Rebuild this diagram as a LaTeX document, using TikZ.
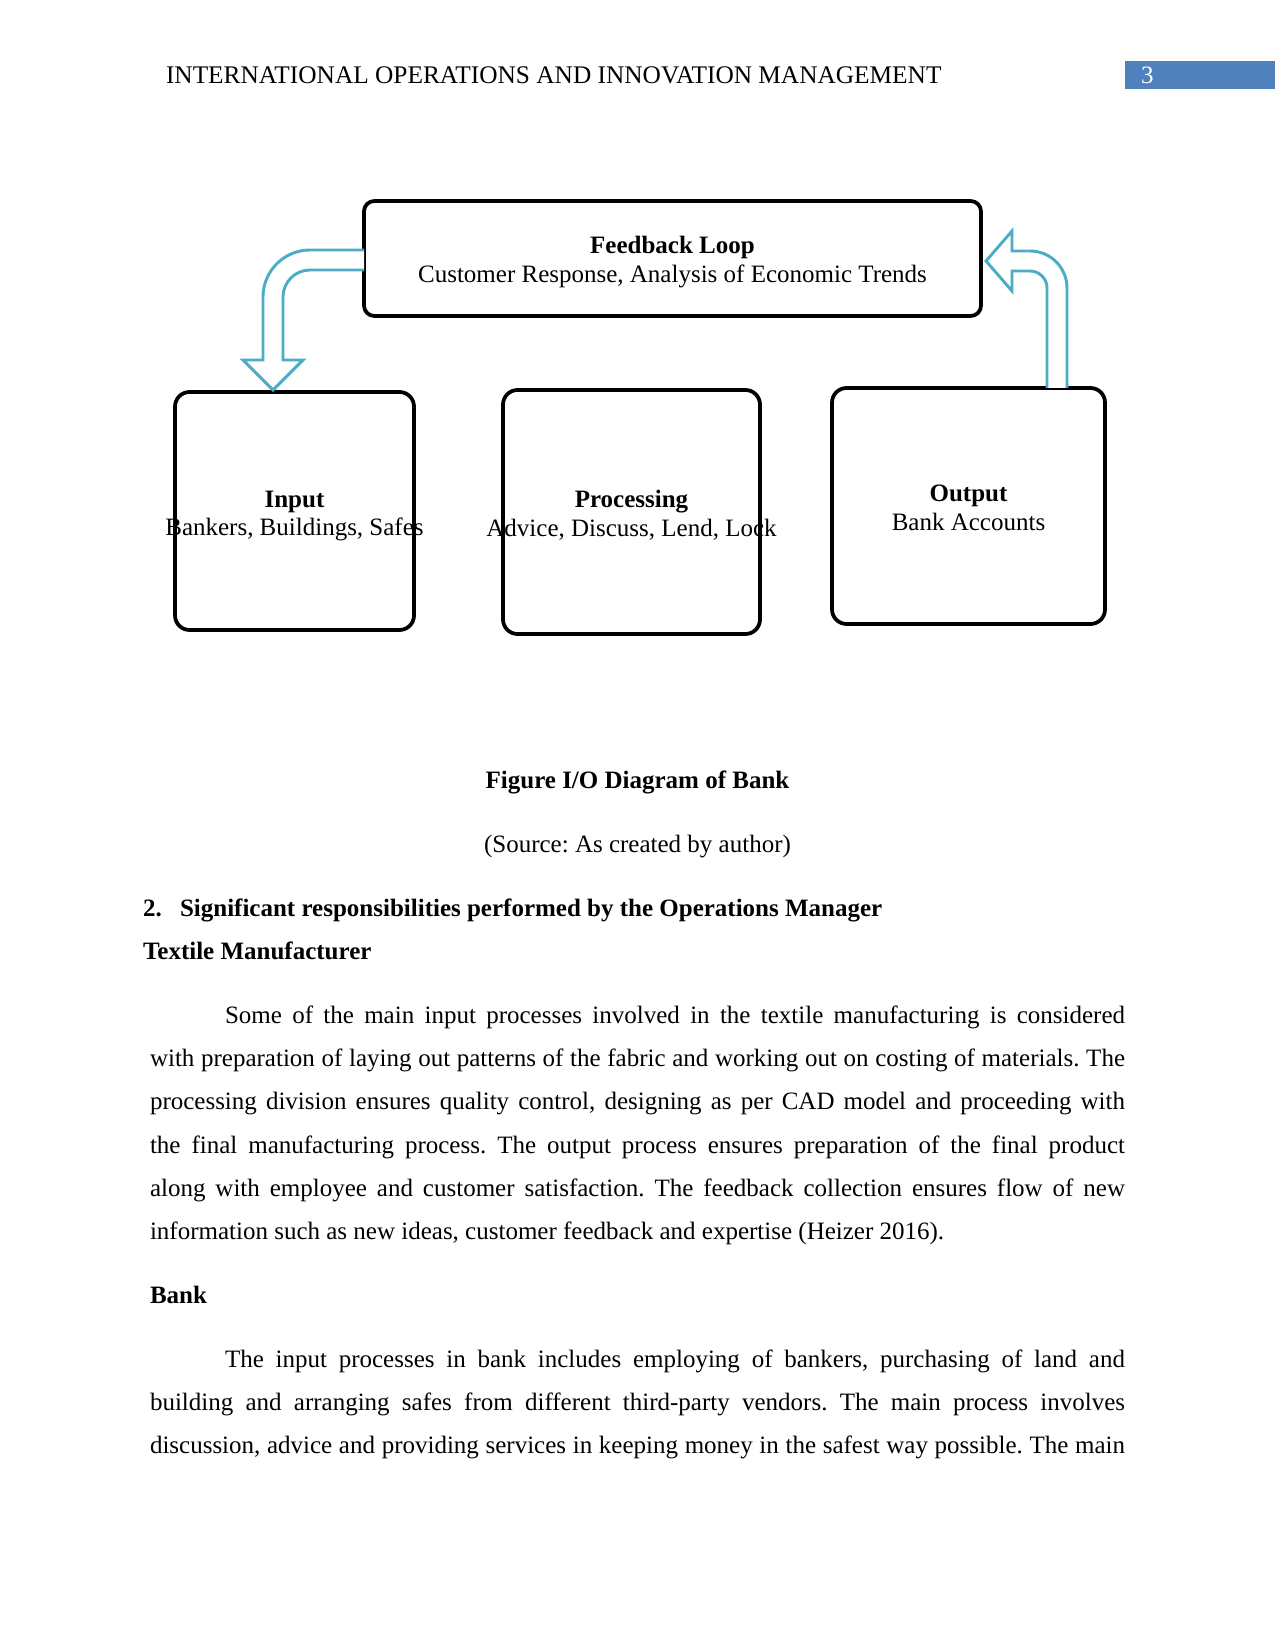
\documentclass[tikz,border=0pt]{standalone}
\usepackage{fontspec}
\setmainfont{Liberation Serif}
\definecolor{hdrblue}{HTML}{4F81BD}
\definecolor{arrblue}{HTML}{4BACC6}
\newcommand{\jline}[2]{\makebox[#1][s]{#2}}
\begin{document}
\frenchspacing
\begin{tikzpicture}[x=0.48pt,y=-0.48pt,
  every node/.style={font=\fontsize{12pt}{13.8pt}\selectfont\frenchspacing, inner sep=0pt, outer sep=0pt},
  txt/.style={anchor=base west},
  ctxt/.style={anchor=base},
  boxtext/.style={align=center},
  fbbox/.style={draw=black, line width=1.8pt, rounded corners=5pt},
  procbox/.style={draw=black, line width=1.8pt, rounded corners=7pt},
  blockarrow/.style={draw=arrblue, line width=1.4pt, fill=white, line join=miter}
]
\useasboundingbox (0,0) rectangle (1275,1650);
\fill[white] (0,0) rectangle (1275,1650);

% header
\node[txt, font=\fontsize{12.17pt}{13.8pt}\selectfont] (hdr) at (166,84) {INTERNATIONAL OPERATIONS AND INNOVATION MANAGEMENT};
\fill[hdrblue] (1125,61) rectangle (1275,89);
\node[txt, text=white] (pg) at (1141,84) {3};

% diagram texts
\node[boxtext] (fbtext) at (672.5,262) {\textbf{Feedback Loop}\\Customer Response, Analysis of Economic Trends};
\node[boxtext] (intext) at (294.5,516) {\textbf{Input}\\Bankers, Buildings, Safes};
\node[boxtext] (prtext) at (631.5,515) {\textbf{Processing}\\Advice, Discuss, Lend, Lock};
\node[boxtext] (outtext) at (968.5,508) {\textbf{Output}\\Bank Accounts};

% boxes (drawn over the text)
\node[fbbox, minimum width=617*0.48pt, minimum height=115*0.48pt] (fb) at (672.5,258.5) {};
\node[procbox, minimum width=239*0.48pt, minimum height=238*0.48pt] (inbox) at (294.5,511) {};
\node[procbox, minimum width=257*0.48pt, minimum height=244*0.48pt] (prbox) at (631.5,512) {};
\node[procbox, minimum width=273*0.48pt, minimum height=236*0.48pt] (outbox) at (968.5,506) {};

% left block arrow: feedback -> input
\draw[blockarrow] (364,250) -- (310,250) arc[start angle=270, end angle=180, radius=47]
  -- (263,360) -- (243,360) -- (273,390) -- (303,360) -- (283,360) -- (283,297)
  arc[start angle=180, end angle=270, radius=27] -- (364,270);
% right block arrow: output -> feedback
\draw[blockarrow] (1047,388) -- (1047,288) arc[start angle=0, end angle=-90, radius=17]
  -- (1012,271) -- (1012,291) -- (986,261) -- (1012,231) -- (1012,251) -- (1030,251)
  arc[start angle=-90, end angle=0, radius=37] -- (1067,388);

% caption
\node[ctxt] (cap) at (637.5,788) {\textbf{Figure I/O Diagram of Bank}};
\node[ctxt] (src) at (637.5,852) {(Source: As created by author)};

% headings
\node[txt] (h2num) at (143,916) {\textbf{2.}};
\node[txt] (h2) at (180,916) {\textbf{Significant responsibilities performed by the Operations Manager}};
\node[txt] (h3) at (143,959) {\textbf{Textile Manufacturer}};

% paragraph 1
\node[txt] (p1a) at (225,1023) {\jline{432pt}{Some of the main input processes involved in the textile manufacturing is considered}};
\node[txt] (p1b) at (150,1066) {\jline{468pt}{with preparation of laying out patterns of the fabric and working out on costing of materials. The}};
\node[txt] (p1c) at (150,1109) {\jline{468pt}{processing division ensures quality control, designing as per CAD model and proceeding with}};
\node[txt] (p1d) at (150,1153) {\jline{468pt}{the final manufacturing process. The output process ensures preparation of the final product}};
\node[txt] (p1e) at (150,1196) {\jline{468pt}{along with employee and customer satisfaction. The feedback collection ensures flow of new}};
\node[txt] (p1f) at (150,1239) {information such as new ideas, customer feedback and expertise (Heizer 2016).};

\node[txt] (h4) at (150,1303) {\textbf{Bank}};

% paragraph 2
\node[txt] (p2a) at (225,1367) {\jline{432pt}{The input processes in bank includes employing of bankers, purchasing of land and}};
\node[txt] (p2b) at (150,1410) {\jline{468pt}{building and arranging safes from different third-party vendors. The main process involves}};
\node[txt] (p2c) at (150,1453) {\jline{468pt}{discussion, advice and providing services in keeping money in the safest way possible. The main}};
\end{tikzpicture}
\end{document}
